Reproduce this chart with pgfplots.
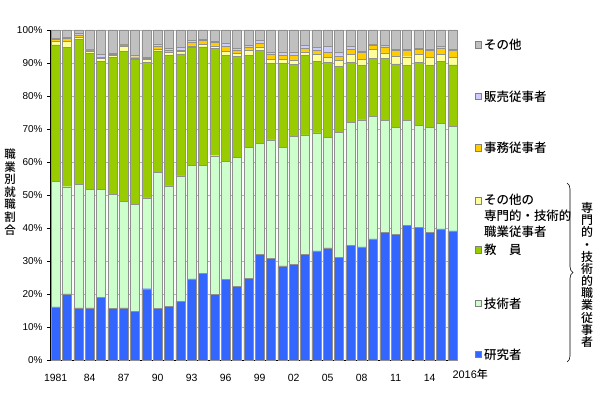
\documentclass[border=0pt]{standalone}
\usepackage{pgfplots}
\pgfplotsset{compat=1.18}
\usepackage{pgfplotstable}
\usepackage{fontspec}
\setmainfont{Liberation Sans}
\newfontfamily\jp{Noto Sans CJK JP}[BoldFont={Noto Sans CJK JP Medium}]
\usetikzlibrary{decorations.pathreplacing}
\definecolor{cRes}{HTML}{3366FF}
\definecolor{cTech}{HTML}{CCFFCC}
\definecolor{cTeach}{HTML}{99CC00}
\definecolor{cOprof}{HTML}{FFFF99}
\definecolor{cOffice}{HTML}{FFCC00}
\definecolor{cSales}{HTML}{CCCCFF}
\definecolor{cOther}{HTML}{C0C0C0}
\definecolor{cEdge}{HTML}{909090}

\pgfplotstableread{
year res tech teach oprof office sales other
1981 16.1 38.1 41.3 1.2 0.5 0.3 2.5
1982 20.0 32.5 42.3 1.7 1.0 0.4 2.1
1983 15.8 37.4 44.0 0.7 0.6 0.5 1.0
1984 15.8 35.9 41.3 0.7 0.3 0.3 5.7
1985 18.9 32.8 38.7 1.0 0.4 0.8 7.4
1986 15.6 34.7 41.5 0.6 0.2 0.4 7.0
1987 15.8 32.2 45.6 1.6 0.3 0.2 4.3
1988 14.7 32.4 43.9 0.6 0.3 0.5 7.6
1989 21.6 27.5 41.1 0.8 0.4 0.4 8.2
1990 15.6 41.2 36.9 0.5 0.9 0.7 4.2
1991 16.2 36.6 39.6 0.8 0.8 0.4 5.6
1992 17.8 38.0 37.0 0.7 0.4 0.9 5.2
1993 24.6 34.3 35.9 0.4 1.1 0.6 3.1
1994 26.2 32.7 36.0 0.7 1.2 0.3 2.9
1995 19.8 42.1 32.5 0.8 1.1 0.4 3.3
1996 24.5 35.7 32.2 1.2 1.5 0.8 4.1
1997 22.3 39.1 30.7 0.9 1.0 0.4 5.6
1998 24.7 39.7 27.9 1.7 0.9 0.4 4.7
1999 32.1 33.6 28.2 1.0 1.0 1.0 3.1
2000 30.7 36.0 23.2 1.2 1.5 0.8 6.6
2001 28.5 35.9 25.5 1.3 1.2 1.0 6.6
2002 29.0 38.7 21.9 1.3 1.5 1.0 6.6
2003 32.1 36.1 24.1 1.1 1.0 0.9 4.7
2004 33.1 35.7 21.7 2.1 1.4 0.8 5.2
2005 34.0 33.5 22.8 1.5 1.6 1.6 5.0
2006 31.0 37.9 20.0 2.0 1.3 1.1 6.7
2007 34.8 37.2 18.3 2.3 1.6 0.9 4.9
2008 34.3 38.5 16.5 1.8 2.1 0.4 6.4
2009 36.7 37.2 17.6 2.6 1.4 0.2 4.3
2010 38.7 34.0 18.8 1.6 1.8 0.4 4.7
2011 38.0 32.4 19.3 2.4 1.7 0.4 5.8
2012 40.9 31.8 16.6 2.6 1.9 0.4 5.8
2013 40.3 30.9 19.0 2.4 1.6 0.4 5.4
2014 38.7 31.9 18.6 2.5 2.1 0.5 5.7
2015 39.7 32.0 18.7 2.3 1.9 0.5 4.9
2016 39.1 31.8 18.5 2.4 2.0 0.4 5.8
}\datatable

\begin{document}
\begin{tikzpicture}
\useasboundingbox (0bp,0bp) rectangle (600bp,397bp);
\begin{axis}[
  at={(50bp,37bp)}, anchor=south west,
  scale only axis, width=408bp, height=330bp,
  xmin=1980.5, xmax=2016.5, ymin=0, ymax=100,
  ybar stacked, bar width=9bp,
  axis lines*=left, axis line style={-, black, line width=0.6bp},
  ytick={0,10,...,100},
  yticklabel={\pgfmathprintnumber{\tick}\%},
  xtick={1981,1984,...,2014},
  xticklabels={1981,84,87,90,93,96,99,02,05,08,11,14},
  xtick style={draw=none},
  ytick style={black, line width=0.5bp},
  tick align=outside, major tick length=3bp,
  ymajorgrids, grid style={gray!60, line width=0.5bp},
  /pgf/number format/assume math mode=true,
  tick label style={font=\fontsize{10}{12}\selectfont},
  xticklabel style={anchor=base, yshift=-18bp, font=\fontsize{10.5}{12}\selectfont},
  yticklabel style={xshift=-1bp},
  every axis plot/.append style={draw=cEdge, line width=0.4bp},
  clip=false,
]
\addplot[fill=cRes] table[x=year,y=res]{\datatable};
\addplot[fill=cTech] table[x=year,y=tech]{\datatable};
\addplot[fill=cTeach] table[x=year,y=teach]{\datatable};
\addplot[fill=cOprof] table[x=year,y=oprof]{\datatable};
\addplot[fill=cOffice] table[x=year,y=office]{\datatable};
\addplot[fill=cSales] table[x=year,y=sales]{\datatable};
\addplot[fill=cOther] table[x=year,y=other]{\datatable};
\node[anchor=base west, inner sep=0pt, yshift=-18bp, xshift=0bp, font=\fontsize{11}{12}\selectfont] at (axis cs:2016,0) {2016{\jp\bfseries 年}};
\end{axis}
\begin{scope}[x=1bp,y=1bp]
% y label
\node[font=\jp\bfseries\fontsize{11.5}{12.7}\selectfont, align=center, inner sep=0pt] at (10,205) {職\\業\\別\\就\\職\\割\\合};
% legend
\tikzset{lsq/.style={draw=gray, line width=0.4bp}}
\def\legfont{\jp\bfseries\fontsize{12.5}{16}\selectfont}
\foreach \yy/\cc in {44.5/cOther, 96.3/cSales, 147.7/cOffice, 201/cOprof, 250/cTeach, 303.3/cTech, 354.3/cRes}{
  \filldraw[fill=\cc, lsq] (475,397-\yy-3.3) rectangle +(6.6,6.6);
}
\node[anchor=west, font=\legfont, inner sep=0pt] at (484,397-44.5) {その他};
\node[anchor=west, font=\legfont, inner sep=0pt] at (484,397-96.3) {販売従事者};
\node[anchor=west, font=\legfont, inner sep=0pt] at (484,397-147.7) {事務従事者};
\node[anchor=north west, font=\legfont, inner sep=0pt, align=left] at (484,397-201+6.8) {その他の\\専門的・技術的\\職業従事者};
\node[anchor=west, font=\legfont, inner sep=0pt] at (484,397-250) {教　員};
\node[anchor=west, font=\legfont, inner sep=0pt] at (484,397-303.3) {技術者};
\node[anchor=west, font=\legfont, inner sep=0pt] at (484,397-354.3) {研究者};
% brace
\draw[decorate, decoration={brace, amplitude=6bp}, line width=0.6bp] (567,397-183) -- (567,397-362);
\node[font=\jp\bfseries\fontsize{12}{12.2}\selectfont, align=center, inner sep=0pt] at (587,397-275) {専\\門\\的\\・\\技\\術\\的\\職\\業\\従\\事\\者};
\end{scope}
\end{tikzpicture}
\end{document}
